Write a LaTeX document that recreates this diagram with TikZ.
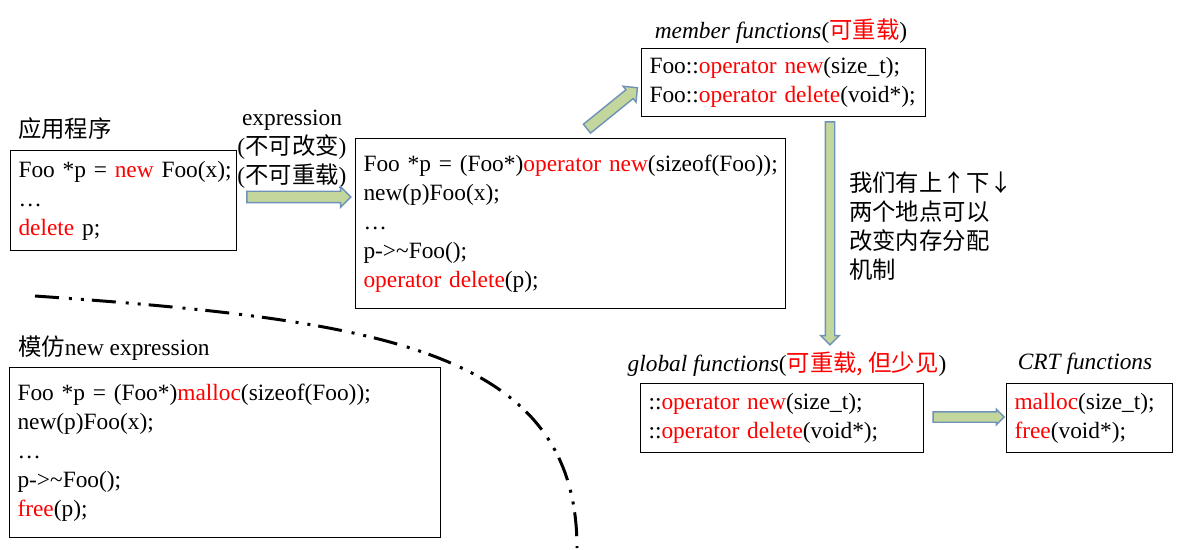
\documentclass[tikz,border=0pt]{standalone}
\usepackage{fontspec}
\setmainfont{Liberation Serif}
\newfontfamily\cjk{Noto Sans CJK SC}
\usepackage{xcolor}
\usetikzlibrary{shapes.arrows, positioning}

\definecolor{arrfill}{RGB}{195,214,155}
\definecolor{arredge}{RGB}{110,145,185}
\newcommand{\zh}[1]{{\cjk #1}}
\newcommand{\kw}[1]{\textcolor{red}{#1}}
\newcommand{\codelines}[1]{\begin{tabular}{@{}l@{}}#1\end{tabular}}

\begin{document}
\begin{tikzpicture}[
        x=0.02cm, y=-0.02cm,
        every node/.style={font=\fontsize{13.3}{16.5}\selectfont},
        codebox/.style 2 args={
            rectangle, draw=black, line width=0.6pt,
            anchor=north west, align=left,
            inner xsep=0.16cm, inner ysep=0pt,
            text width=#1, minimum height=#2
        },
        blockarr/.style={
            single arrow, draw=arredge, fill=arrfill, line width=0.8pt,
            inner xsep=0pt, inner ysep=0.1cm, minimum width=0pt,
            single arrow head extend=0.09cm
        },
        cutline/.style={
            line width=1.7pt,
            dash pattern=on 0.48cm off 0.2cm on 0.06cm off 0.18cm on 0.06cm off 0.16cm
        },
    ]
    \useasboundingbox (0,0) rectangle (1179,550);

    % titles
    \node (apptitle) [anchor=west] at (12,129) {\zh{应用程序}};
    \node (exprnote) [align=center] at (292,149) {expression\\(\zh{不可改变})\\(\zh{不可重载})};
    \node (memtitle)  at (781,31)  {\textit{member functions}(\kw{\zh{可重载}})};
    \node (globtitle) at (787,364) {\textit{global functions}(\kw{\zh{可重载, 但少见}})};
    \node (crttitle)  at (1085,364) {\textit{CRT functions}};
    \node (imitate) [anchor=west] at (12,348) {\zh{模仿}new expression};
    \node (note) [anchor=west, align=left] at (843,226)
        {\zh{我们有上↑下↓}\\\zh{两个地点可以}\\\zh{改变内存分配}\\\zh{机制}};

    % code boxes
    \node (app) [codebox={4.2cm}{2cm}] at (10,150)
        {\codelines{Foo *p = \kw{new} Foo(x);\\…\\\kw{delete} p;}};
    \node (expand) [codebox={8.28cm}{3.4cm}] at (355,138)
        {\codelines{Foo *p = (Foo*)\kw{operator new}(sizeof(Foo));\\new(p)Foo(x);\\…\\p->\textasciitilde Foo();\\\kw{operator delete}(p);}};
    \node (member) [codebox={5.36cm}{1.36cm}] at (641,48)
        {\codelines{Foo::\kw{operator new}(size\_t);\\Foo::\kw{operator delete}(void*);}};
    \node (global) [codebox={5.34cm}{1.38cm}] at (640,383)
        {\codelines{::\kw{operator new}(size\_t);\\::\kw{operator delete}(void*);}};
    \node (crt) [codebox={3.0cm}{1.38cm}] at (1006,383)
        {\codelines{\kw{malloc}(size\_t);\\\kw{free}(void*);}};
    \node (mimic) [codebox={8.3cm}{3.4cm}] at (9,367)
        {\codelines{Foo *p = (Foo*)\kw{malloc}(sizeof(Foo));\\new(p)Foo(x);\\…\\p->\textasciitilde Foo();\\\kw{free}(p);}};

    % block arrows
    \node (appexpand) [blockarr, minimum height=2.08cm] at (296,197) {};
    \node (expandmem) [blockarr, minimum height=1.3cm, rotate=39] at (610,110) {};
    \node (memglobal) [blockarr, minimum height=4.46cm, inner ysep=0.08cm,
                       rotate=-90] at (830,231) {};
    \node (globalcrt) [blockarr, minimum height=1.42cm, inner ysep=0.09cm,
                       single arrow head extend=0.05cm] at (966,417) {};

    % dividing curve
    \draw [cutline] (35,296) .. controls (380,320) and (577,350) .. (577,548);

\end{tikzpicture}
\end{document}
